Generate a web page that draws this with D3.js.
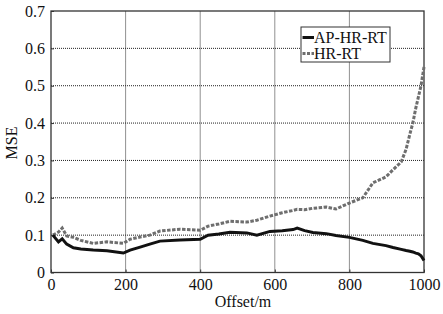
<!DOCTYPE html>
<html>
<head>
<meta charset="utf-8">
<script src="https://cdn.jsdelivr.net/npm/d3@7"></script>
<style>
  body { margin: 0; background: #fff; }
  svg { font-family: "Liberation Serif", "DejaVu Serif", serif; }
</style>
</head>
<body>
<svg width="443" height="314"></svg>
<script>
// offsets (m) sampled along the curves
const offsets = [5, 20, 30, 42, 60, 80, 113, 150, 194, 212, 239, 265, 292, 346, 400, 421, 450, 480, 525, 552, 587, 620, 649, 660, 680, 702, 738, 764, 800, 836, 863, 898, 917, 939, 952, 962, 970, 978, 985, 992, 1000]
// AP-HR-RT (solid black)
const apValues = [0.100, 0.082, 0.090, 0.076, 0.066, 0.063, 0.060, 0.058, 0.052, 0.060, 0.068, 0.076, 0.084, 0.087, 0.089, 0.100, 0.103, 0.108, 0.106, 0.100, 0.110, 0.112, 0.115, 0.119, 0.112, 0.107, 0.104, 0.099, 0.094, 0.086, 0.078, 0.072, 0.067, 0.062, 0.059, 0.057, 0.055, 0.052, 0.050, 0.045, 0.032]
// HR-RT (grey dashed)
const hrValues = [0.100, 0.108, 0.119, 0.098, 0.094, 0.086, 0.078, 0.082, 0.078, 0.089, 0.095, 0.100, 0.111, 0.116, 0.113, 0.124, 0.130, 0.137, 0.135, 0.140, 0.151, 0.160, 0.166, 0.169, 0.168, 0.172, 0.175, 0.170, 0.186, 0.200, 0.240, 0.256, 0.275, 0.296, 0.330, 0.370, 0.400, 0.440, 0.470, 0.500, 0.550]
const xTicks = [0, 200, 400, 600, 800, 1000]
const yTicks = [0, 0.1, 0.2, 0.3, 0.4, 0.5, 0.6, 0.7]
const seriesNames = ['AP-HR-RT', 'HR-RT']

const svg = d3.select('svg')

const x = d3.scaleLinear().domain([0, 1000]).range([51, 424])
const y = d3.scaleLinear().domain([0, 0.7]).range([272.5, 11])

// dotted grid
const grid = svg.append('g')
grid.selectAll('line.gx')
  .data(xTicks.slice(1, -1))
  .enter().append('line')
  .attr('x1', d => x(d)).attr('x2', d => x(d))
  .attr('y1', y(0)).attr('y2', y(0.7))
  .attr('stroke', '#222').attr('stroke-width', 1)
  .attr('stroke-dasharray', '1,1')
grid.selectAll('line.gy')
  .data(yTicks.slice(1, -1))
  .enter().append('line')
  .attr('x1', x(0)).attr('x2', x(1000))
  .attr('y1', d => y(d)).attr('y2', d => y(d))
  .attr('stroke', '#222').attr('stroke-width', 1)
  .attr('stroke-dasharray', '1,1')

// axes
const xAxis = d3.axisBottom(x).tickValues(xTicks).tickSize(-3).tickPadding(6).tickFormat(d3.format('d'))
const yAxis = d3.axisLeft(y).tickValues(yTicks).tickSize(-3).tickPadding(6).tickFormat(d => d === 0 ? '0' : d3.format('.1f')(d))

const gx = svg.append('g').attr('transform', `translate(0, ${y(0)})`).call(xAxis)
const gy = svg.append('g').attr('transform', `translate(${x(0)}, 0)`).call(yAxis)
;[gx, gy].forEach(g => {
  g.select('.domain').remove()
  g.selectAll('text').attr('font-size', 16).attr('fill', '#111').attr('font-family', '"Liberation Serif", serif')
  g.selectAll('line').attr('stroke', '#333')
})

// frame
svg.append('rect')
  .attr('x', x(0)).attr('y', y(0.7))
  .attr('width', x(1000) - x(0)).attr('height', y(0) - y(0.7))
  .attr('fill', 'none').attr('stroke', '#333').attr('stroke-width', 1.3)

// lines
const line = d3.line()
  .x((d, i) => x(offsets[i]))
  .y(d => y(d))

svg.append('path')
  .attr('d', line(hrValues))
  .attr('fill', 'none').attr('stroke', '#6e6e6e').attr('stroke-width', 3)
  .attr('stroke-dasharray', '3.5,1.5')

svg.append('path')
  .attr('d', line(apValues))
  .attr('fill', 'none').attr('stroke', '#111').attr('stroke-width', 3)

// legend
const legend = svg.append('g').attr('transform', 'translate(301, 27)')
legend.append('rect')
  .attr('width', 89).attr('height', 35)
  .attr('fill', '#fff').attr('stroke', '#333').attr('stroke-width', 1)
const styles = [{ c: '#111', dash: null }, { c: '#6e6e6e', dash: '3,1.5' }]
seriesNames.forEach((name, i) => {
  const yy = 10.5 + i * 16
  legend.append('line')
    .attr('x1', 1.5).attr('x2', 13).attr('y1', yy).attr('y2', yy)
    .attr('stroke', styles[i].c).attr('stroke-width', 3)
    .attr('stroke-dasharray', styles[i].dash)
  legend.append('text')
    .attr('x', 13).attr('y', yy + 5.5)
    .attr('font-size', 16).attr('fill', '#111')
    .text(name)
})

// axis titles
svg.append('text')
  .attr('x', 243).attr('y', 307)
  .attr('text-anchor', 'middle').attr('font-size', 16).attr('fill', '#111')
  .text('Offset/m')
svg.append('text')
  .attr('transform', 'translate(17, 143) rotate(-90)')
  .attr('text-anchor', 'middle').attr('font-size', 16).attr('fill', '#111')
  .text('MSE')
</script>
</body>
</html>
